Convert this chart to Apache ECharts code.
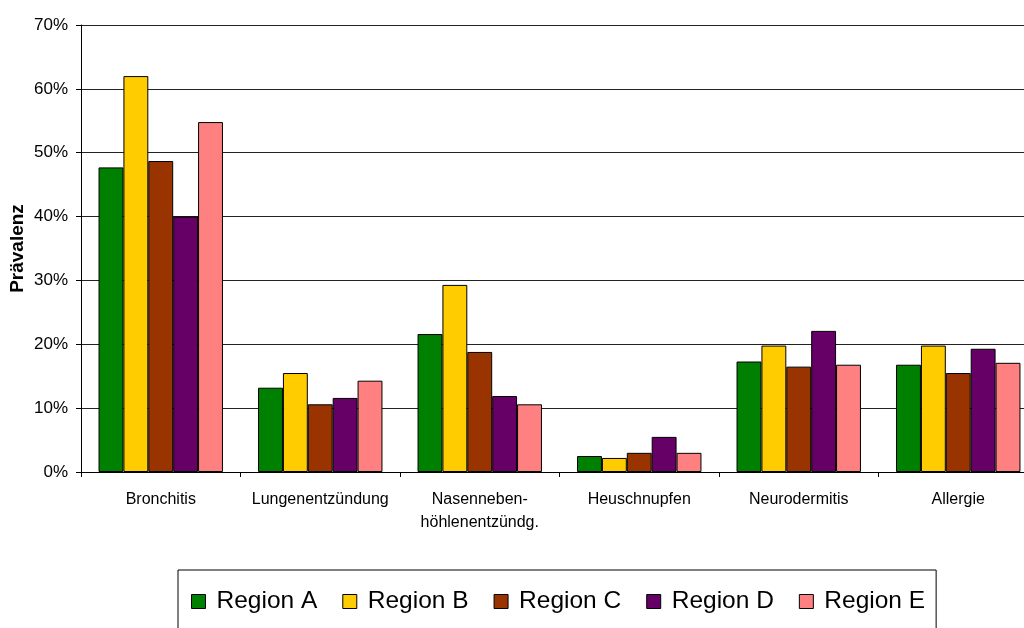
<!DOCTYPE html>
<html>
<head>
<meta charset="utf-8">
<script src="https://cdn.jsdelivr.net/npm/echarts@6/dist/echarts.min.js"></script>
<style>
  html, body { margin: 0; padding: 0; background: #fff; }
  #chart { width: 1024px; height: 628px; }
</style>
</head>
<body>
<div id="chart"></div>
<script>
// Prävalenz je Erkrankung und Region (Anteile in Prozent)
const categories = ['Bronchitis', 'Lungenentzündung', 'Nasenneben-\nhöhlenentzündg.', 'Heuschnupfen', 'Neurodermitis', 'Allergie'];
const seriesNames = ['Region A', 'Region B', 'Region C', 'Region D', 'Region E'];
const regionA = [47.7, 13.2, 21.6, 2.5, 17.3, 16.8];
const regionB = [62.0, 15.5, 29.3, 2.2, 19.8, 19.8];
const regionC = [48.7, 10.6, 18.8, 3.0, 16.5, 15.5];
const regionD = [40.0, 11.6, 11.9, 5.5, 22.1, 19.3];
const regionE = [54.8, 14.3, 10.6, 3.0, 16.8, 17.1];
const yTicks = [0, 10, 20, 30, 40, 50, 60, 70];

const colors = ['#008000', '#FFCC00', '#993300', '#660066', '#FF8080'];
const values = [regionA, regionB, regionC, regionD, regionE];
const font = '"Liberation Sans", Arial, sans-serif';

const chart = echarts.init(document.getElementById('chart'), null, { renderer: 'canvas' });
chart.setOption({
  animation: false,
  backgroundColor: '#fff',
  color: colors,
  grid: { left: 81, top: 25, width: 957, height: 447, containLabel: false, outerBoundsMode: 'none' },
  legend: {
    left: 178, top: 570,
    padding: [19, 11, 20, 13],
    borderColor: '#000', borderWidth: 1,
    itemWidth: 14, itemHeight: 14, itemGap: 25,
    icon: 'rect',
    itemStyle: { borderColor: '#000', borderWidth: 1 },
    textStyle: { fontFamily: font, fontSize: 24.5, color: '#000', padding: [0, 0, 0, 6] },
    data: seriesNames
  },
  xAxis: {
    type: 'category',
    data: categories,
    axisLine: { lineStyle: { color: '#000', width: 1 } },
    axisTick: { show: true, length: 5, alignWithLabel: false, lineStyle: { color: '#000' } },
    axisLabel: { fontFamily: font, fontSize: 16, color: '#000', margin: 16, lineHeight: 23, interval: 0 }
  },
  yAxis: {
    type: 'value',
    min: yTicks[0], max: yTicks[yTicks.length - 1], interval: 10,
    name: 'Prävalenz',
    nameLocation: 'middle',
    nameRotate: 90,
    nameGap: 54,
    nameMoveOverlap: false,
    nameTextStyle: { fontFamily: font, fontSize: 19, fontWeight: 'bold', color: '#000' },
    axisLine: { show: true, lineStyle: { color: '#000', width: 1 } },
    axisTick: { show: true, length: 5, inside: false, lineStyle: { color: '#000' } },
    axisLabel: { fontFamily: font, fontSize: 17, color: '#000', margin: 13, formatter: v => v + '%' },
    splitLine: { show: true, lineStyle: { color: '#222', width: 1 } }
  },
  series: seriesNames.map((name, i) => ({
    name,
    type: 'bar',
    data: values[i],
    barGap: '0%',
    barCategoryGap: '22%',
    itemStyle: { color: colors[i], borderColor: '#000', borderWidth: 1 }
  }))
});
</script>
</body>
</html>
